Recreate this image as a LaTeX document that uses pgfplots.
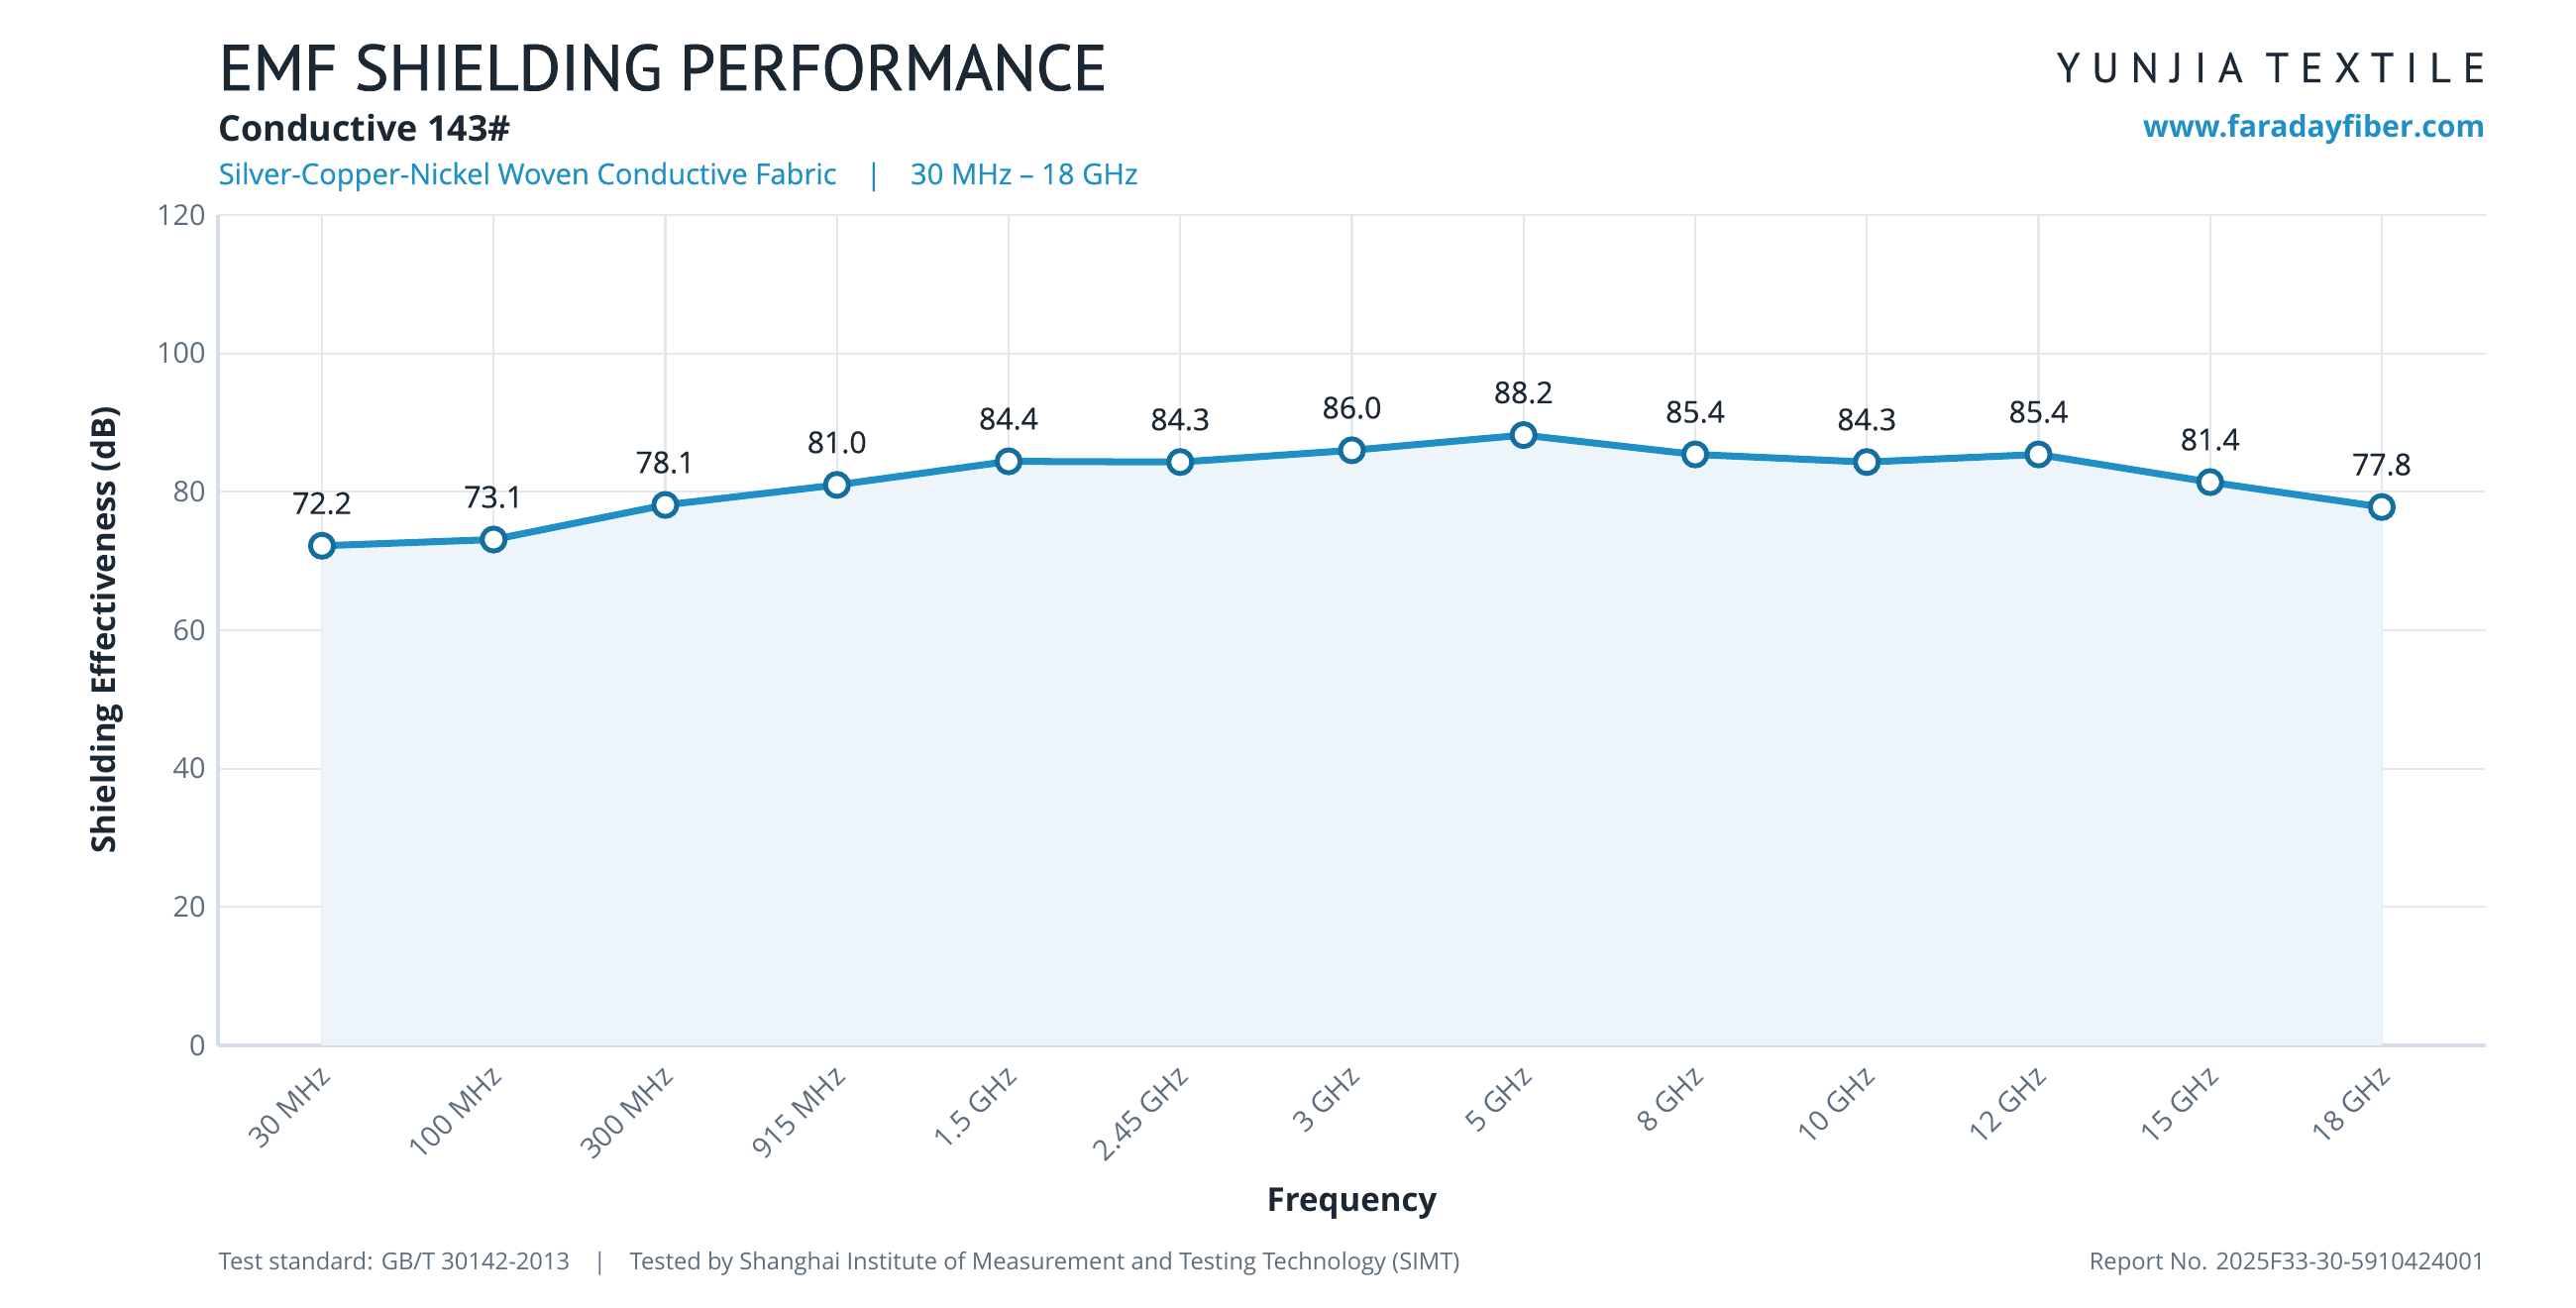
\documentclass[border=0pt]{standalone}
\usepackage{pgfplots}
\pgfplotsset{compat=1.18}
\usepackage{fontspec}
\setmainfont{Open Sans}
\newfontfamily\titlefont[FakeBold=1.2]{PT Sans}
\newfontfamily\brandfont[LetterSpace=28,FakeBold=0.4]{PT Sans}
\newfontfamily\medfont[FakeBold=0.5]{Open Sans}

\definecolor{ink}{HTML}{1B2733}
\definecolor{accent}{HTML}{1F8FC6}
\definecolor{markedge}{HTML}{146E9E}
\definecolor{gridc}{HTML}{E4E9EF}
\definecolor{axisc}{HTML}{D4DDE8}
\definecolor{tickc}{HTML}{5D6D7E}
\definecolor{footc}{HTML}{5D6D7E}
\definecolor{areafill}{HTML}{EDF5FA}

\begin{document}
\begin{tikzpicture}[x=1cm,y=1cm]
\path[use as bounding box] (0,0) rectangle (26,13.2);

% header
\node[anchor=base west, inner sep=0pt, text=ink] at (2.20,12.29)
  {\titlefont\fontsize{18.5}{20}\selectfont EMF SHIELDING PERFORMANCE};
\node[anchor=base west, inner sep=0pt, text=ink] at (2.20,11.77)
  {\fontsize{10.2}{12}\selectfont\bfseries Conductive 143\#};
\node[anchor=base west, inner sep=0pt, text=accent] at (2.20,11.34)
  {\medfont\fontsize{8.3}{10}\selectfont Silver-Copper-Nickel Woven Conductive Fabric\quad|\quad 30 MHz – 18 GHz};
\node[anchor=base east, inner sep=0pt, text=ink] at (25.09,12.37)
  {\brandfont\fontsize{12}{14}\selectfont YUNJIA TEXTILE};
\node[anchor=base east, inner sep=0pt, text=accent] at (25.09,11.81)
  {\fontsize{8.6}{10}\selectfont\bfseries www.faradayfiber.com};

% footer
\node[anchor=base west, inner sep=0pt, text=footc] at (2.20,0.38)
  {\fontsize{6.75}{8}\selectfont Test standard: GB/T 30142-2013\quad|\quad Tested by Shanghai Institute of Measurement and Testing Technology (SIMT)};
\node[anchor=base east, inner sep=0pt, text=footc] at (25.09,0.38)
  {\fontsize{6.75}{8}\selectfont Report No. 2025F33-30-5910424001};

\begin{axis}[
  at={(2.20cm,2.65cm)}, anchor=south west,
  width=22.89cm, height=8.38cm, scale only axis,
  xmin=-0.606, xmax=12.606, ymin=0, ymax=120,
  xtick={0,...,12},
  xticklabels={30 MHz,100 MHz,300 MHz,915 MHz,1.5 GHz,2.45 GHz,3 GHz,5 GHz,8 GHz,10 GHz,12 GHz,15 GHz,18 GHz},
  ytick={0,20,...,120},
  grid=major,
  major grid style={draw=gridc, line width=0.6pt},
  axis x line*=bottom, axis y line*=left,
  axis line style={draw=axisc, line width=1pt},
  major tick length=0pt,
  /pgf/number format/assume math mode=true,
  xticklabel shift=1.5pt,
  xticklabel style={rotate=45, anchor=north east, inner sep=1.5pt, xshift=-2pt,
    font=\fontsize{8.2}{9}\selectfont, text=tickc},
  yticklabel style={font=\fontsize{8.2}{9}\selectfont, text=tickc},
  xlabel={Frequency},
  ylabel={Shielding Effectiveness (dB)},
  xlabel style={at={(rel axis cs:0.5,-0.191)}, anchor=center,
    font=\fontsize{9.4}{11}\selectfont\bfseries, text=ink},
  ylabel style={at={(rel axis cs:-0.049,0.5)}, anchor=center, rotate=0,
    font=\fontsize{9.4}{11}\selectfont\bfseries, text=ink},
  clip=false,
]
\addplot[fill=areafill, draw=none, forget plot] coordinates {
  (0,72.2) (1,73.1) (2,78.1) (3,81.0) (4,84.4) (5,84.3) (6,86.0)
  (7,88.2) (8,85.4) (9,84.3) (10,85.4) (11,81.4) (12,77.8)
} \closedcycle;
\addplot[color=accent, line width=2pt,
  mark=*, mark size=3.3pt,
  mark options={fill=white, draw=markedge, line width=1.4pt},
  nodes near coords,
  point meta=y,
  every node near coord/.append style={
    font=\medfont\fontsize{8.6}{10}\selectfont, text=ink, yshift=5pt,
    /pgf/number format/.cd, fixed, fixed zerofill, precision=1, assume math mode=true},
] coordinates {
  (0,72.2) (1,73.1) (2,78.1) (3,81.0) (4,84.4) (5,84.3) (6,86.0)
  (7,88.2) (8,85.4) (9,84.3) (10,85.4) (11,81.4) (12,77.8)
};
\end{axis}
\end{tikzpicture}
\end{document}
